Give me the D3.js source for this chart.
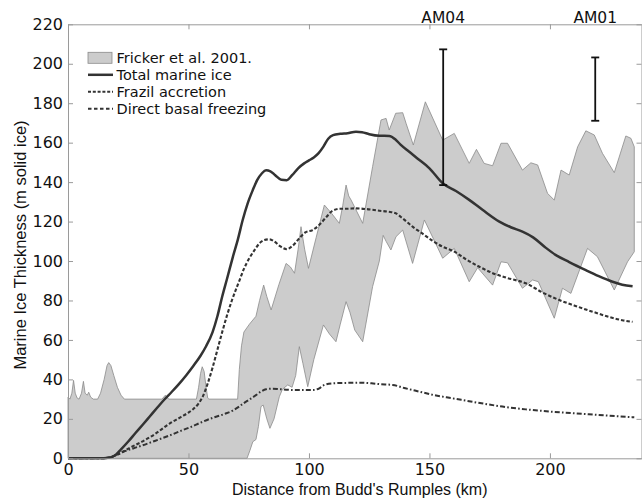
<!DOCTYPE html>
<html>
<head>
<meta charset="utf-8">
<script src="https://cdn.jsdelivr.net/npm/d3@7"></script>
<style>
  html, body { margin: 0; padding: 0; background: #fff; }
  svg { display: block; }
</style>
</head>
<body>
<script>
// data, [km, m solid ice]
const frickerUpper = [
  [0, 31], [0.8, 30], [1.6, 33], [2.3, 39.5], [3.0, 33], [3.8, 30.5], [4.6, 30], [5.6, 33], [6.4, 39],
  [7.1, 33], [8, 32], [8.6, 33.5], [9.4, 31], [10.5, 30], [12.3, 30], [13.5, 33], [15, 40], [16.2, 47],
  [16.9, 48.5], [17.8, 47], [19, 42], [20.5, 36], [22, 32], [23.4, 30], [39, 30], [40.4, 32], [41.8, 30],
  [53.3, 30], [54.2, 36], [55, 43], [55.7, 46.4], [56.5, 44], [57.3, 36], [58, 30.5], [58.5, 30],
  [70.4, 30], [71.1, 45], [72, 57], [73, 64], [75.3, 68], [78, 72], [79.5, 80], [81.2, 87.8], [82.5, 82],
  [84.3, 75.2], [87.5, 88], [90.5, 98.8], [92.3, 97], [94, 93.8], [95.5, 106], [96.7, 117.4], [98.2, 106],
  [99.8, 96.3], [103, 112], [106.4, 128.4], [109.5, 124], [112.6, 119.1], [114, 128], [115.4, 138.5],
  [116.5, 133], [117.5, 130.9], [122.3, 119.1], [126.4, 147.8], [129.9, 171.5], [132, 172.3], [133.3, 166.4],
  [136, 174.9], [138.9, 175.2], [140.3, 169.8], [143.3, 158.8], [148.3, 180.7], [155.5, 161.3], [160.3, 164.7],
  [166.5, 149.5], [169.5, 156.6], [172.7, 149.5], [176.2, 148.3], [179.7, 159.7], [182.4, 159.7], [188.6, 146.1],
  [192.1, 149.8], [194.9, 148.7], [199, 134.3], [201.8, 130.9], [204.6, 146.1], [208, 143.6], [211.5, 157.9],
  [214.9, 166], [218.4, 163.9], [221.8, 154.6], [226.7, 144.8], [231.5, 163.4], [233.6, 162.2], [235, 157.9]
]
const frickerLower = [
  [0, 0], [74.3, 0], [75.5, 4], [76.7, 8.4], [78, 9.5], [79, 16], [80.1, 26.2], [81, 27], [82.5, 20],
  [83.8, 15.2], [85.5, 20], [87.7, 31.2], [89, 35], [91.2, 37.2], [93, 36], [94.5, 42], [96, 56.6], [97.5, 48],
  [99.5, 36.3], [102, 50], [106, 67.6], [108.5, 63], [111.2, 59.1], [113, 68], [115.4, 79.4], [117, 74],
  [119, 65], [122.3, 59.1], [126.4, 87], [129.2, 100], [130.8, 113], [132, 110], [134, 105.6], [136.1, 112.3],
  [138.9, 115.7], [143, 98.8], [147.9, 120.8], [155.5, 101.4], [160.3, 106.4], [166.5, 89.5], [170, 96.6],
  [176.2, 87.8], [179.7, 99.6], [182.4, 99.1], [188.6, 86.2], [192.8, 90.4], [195.2, 89.5], [201.8, 71],
  [205.2, 86.2], [208.7, 83.6], [215.6, 106.4], [219.7, 102.2], [226.7, 85.3], [232.2, 99.6], [235, 104.7]
]
const totalIce = [
  [0, 0], [14, 0], [16, 0.2], [18, 0.6], [20, 2], [22, 4.5], [25, 8.5], [28, 12.8], [31, 17], [34, 21.3],
  [37, 25.6], [40, 29.8], [43, 33.6], [46, 37.6], [49, 42], [52, 46.8], [55, 52], [57.3, 56.8], [60, 64],
  [62, 72], [64, 82], [66, 91], [68.4, 102], [70.5, 111], [72.5, 120.8], [74.5, 129], [76.7, 136],
  [78.5, 141], [80.5, 144.5], [82.2, 146], [84, 145.5], [86, 143.5], [88.5, 141.2], [90.8, 141], [93, 143.5],
  [95.5, 147], [98, 149.5], [100, 151], [102, 152.5], [104, 154.7], [106, 158], [108, 162], [110, 163.8],
  [113, 164.5], [116, 164.8], [119.5, 165.5], [122, 165.3], [125, 164.3], [129.2, 163.5], [133.3, 163.4],
  [136, 161.5], [138, 159], [141.6, 155.4], [145, 152], [150, 147], [155.5, 139.4], [161, 135.5],
  [166.5, 131], [172, 126], [179, 120], [184, 117], [188.6, 114.9], [193, 112], [198, 107], [202.5, 103],
  [208, 99.5], [214.9, 95.4], [220, 92.5], [226, 89.5], [230, 88], [234.3, 87.2]
]
const frazil = [
  [0, 0], [14, 0], [16, 0.2], [18, 0.6], [20, 1.6], [23, 3.5], [26, 5.5], [31, 8.6], [36, 12.2], [42, 17.5],
  [47, 21], [50, 23.2], [52, 25], [54, 27.5], [56, 31.5], [58, 38], [60, 46], [62, 55], [64, 64],
  [66, 72.5], [68, 80], [71.1, 90], [73, 96], [75.3, 101.5], [77.4, 105.5], [79.5, 109], [81.5, 110.6],
  [83.6, 111], [85.5, 110], [88, 107.5], [90.8, 106], [93, 107.5], [96, 111.5], [98.5, 114.5], [101.5, 115.7],
  [104, 118], [107, 122], [109.8, 125.5], [113, 126.5], [116, 126.5], [119.5, 126.7], [124, 126.3],
  [129.2, 125.5], [133, 125], [136, 124.2], [139, 121.5], [143, 117.4], [147, 114], [151, 110.5],
  [155.5, 107.2], [160, 105], [165, 101], [170.7, 97.1], [176, 94], [182, 91.5], [190, 88.7], [197, 84],
  [203.9, 80.2], [210, 77.5], [217.7, 74.3], [225, 71.5], [230, 70], [234.3, 69.2]
]
const basal = [
  [0, 0], [14, 0], [16, 0.2], [18, 0.6], [20, 1.6], [23, 3.3], [27, 5], [31, 6.6], [36, 8.8], [42, 11.5],
  [47, 14], [51.8, 16.3], [54.5, 17.8], [60, 20.5], [65, 22.5], [68.4, 24.2], [71.1, 26.3], [73, 28],
  [75.3, 29.8], [78, 32], [80, 33.8], [82.2, 35], [85, 35.3], [88, 35], [90.5, 34.8], [95, 34.6], [101.5, 34.6],
  [104.3, 35.5], [106, 37], [109.8, 38], [115, 38.2], [121, 38.3], [126, 38], [129.2, 37.6], [134.7, 37.2],
  [140, 35.5], [145.8, 33.8], [152, 32], [159.6, 30.4], [170, 28.2], [180.3, 26.2], [190, 24.8],
  [201, 23.6], [210, 22.8], [220, 22], [228, 21.3], [235, 20.8]
]
// error bars at the two stations: [km, low, high]
const stations = ['AM04', 'AM01']
const stationBars = [[155.7, 138.5, 207.3], [218.8, 171.1, 203.2]]

const xTicks = [0, 50, 100, 150, 200]
const yTicks = [0, 20, 40, 60, 80, 100, 120, 140, 160, 180, 200, 220]
const legendLabels = ['Fricker et al. 2001.', 'Total marine ice', 'Frazil accretion', 'Direct basal freezing']

// layout
const width = 642
const height = 500
const frame = { left: 68, right: 641.5, top: 24.3, bottom: 458.3 }
const lineColor = '#333'
const tickFont = 'DejaVu Sans, sans-serif'
const labelFont = 'Liberation Sans, Arial, sans-serif'

const svg = d3.select('body')
  .append('svg')
  .attr('width', width)
  .attr('height', height)

// scales
const xScale = d3.scaleLinear()
  .domain([0, 238])
  .range([frame.left, frame.right])
const yScale = d3.scaleLinear()
  .domain([0, 220])
  .range([frame.bottom, frame.top])

const line = d3.line()
  .x(d => xScale(d[0]))
  .y(d => yScale(d[1]))

// shaded Fricker band (upper edge then lower edge back)
const band = frickerUpper.concat(frickerLower.slice().reverse())
svg.append('path')
  .attr('d', line(band) + 'Z')
  .attr('fill', '#cccccc')
  .attr('stroke', '#8a8a8a')
  .attr('stroke-width', 0.8)

// model lines
const smooth = d3.line()
  .x(d => xScale(d[0]))
  .y(d => yScale(d[1]))
  .curve(d3.curveMonotoneX)

const series = [
  { data: basal, dash: '5,2.2,1.6,2.2', w: 2 },
  { data: frazil, dash: '3.5,2', w: 2.1 },
  { data: totalIce, dash: null, w: 2.5 }
]
series.forEach(s => {
  svg.append('path')
    .attr('d', smooth(s.data))
    .attr('fill', 'none')
    .attr('stroke', lineColor)
    .attr('stroke-width', s.w)
    .attr('stroke-dasharray', s.dash)
})

// station error bars
const bars = svg.append('g')
stationBars.forEach((b, i) => {
  const x = xScale(b[0])
  bars.append('line')
    .attr('x1', x).attr('x2', x)
    .attr('y1', yScale(b[1])).attr('y2', yScale(b[2]))
    .attr('stroke', '#111').attr('stroke-width', 1.8)
  ;[b[1], b[2]].forEach(v => {
    bars.append('line')
      .attr('x1', x - 4).attr('x2', x + 4)
      .attr('y1', yScale(v)).attr('y2', yScale(v))
      .attr('stroke', '#111').attr('stroke-width', 1.8)
  })
  svg.append('text')
    .attr('x', x)
    .attr('y', frame.top - 1.5)
    .attr('text-anchor', 'middle')
    .attr('font-family', tickFont)
    .attr('font-size', 15.5)
    .attr('fill', '#111')
    .text(stations[i])
})

// axes: bottom/left with labels, top/right ticks only
const tickLen = 5
const axisBottom = d3.axisBottom(xScale).tickValues(xTicks).tickSizeInner(-tickLen).tickSizeOuter(0).tickPadding(5.5)
const axisTop = d3.axisTop(xScale).tickValues(xTicks).tickSizeInner(-tickLen).tickSizeOuter(0).tickFormat('')
const axisLeft = d3.axisLeft(yScale).tickValues(yTicks).tickSizeInner(-tickLen).tickSizeOuter(0).tickPadding(5)
const axisRight = d3.axisRight(yScale).tickValues(yTicks).tickSizeInner(-tickLen).tickSizeOuter(0).tickFormat('')

const gB = svg.append('g').attr('transform', `translate(0,${frame.bottom})`).call(axisBottom)
const gT = svg.append('g').attr('transform', `translate(0,${frame.top})`).call(axisTop)
const gL = svg.append('g').attr('transform', `translate(${frame.left},0)`).call(axisLeft)
const gR = svg.append('g').attr('transform', `translate(${frame.right},0)`).call(axisRight)

;[gB, gT, gL, gR].forEach(g => {
  g.select('.domain').attr('stroke', '#9a9a9a').attr('stroke-width', 1)
  g.selectAll('.tick line').attr('stroke', '#9a9a9a').attr('stroke-width', 1)
  g.selectAll('.tick text')
    .attr('font-family', tickFont)
    .attr('font-size', 16)
    .attr('fill', '#111')
})

// axis titles
svg.append('text')
  .attr('x', (frame.left + frame.right) / 2 + 5)
  .attr('y', 495)
  .attr('text-anchor', 'middle')
  .attr('font-family', labelFont)
  .attr('font-size', 16)
  .attr('fill', '#111')
  .text("Distance from Budd's Rumples (km)")

svg.append('text')
  .attr('transform', 'translate(26,245) rotate(-90)')
  .attr('text-anchor', 'middle')
  .attr('font-family', labelFont)
  .attr('font-size', 16.5)
  .attr('fill', '#111')
  .text('Marine Ice Thickness (m solid ice)')

// legend
const legend = svg.append('g').attr('transform', 'translate(88,57.8)')
const rowH = 17
legend.append('rect')
  .attr('x', 0).attr('y', -5.5)
  .attr('width', 24).attr('height', 11)
  .attr('fill', '#cccccc')
  .attr('stroke', '#8a8a8a')
  .attr('stroke-width', 0.8)

const legendDash = [null, '3,1.8', '3.5,2.5']
legendDash.forEach((dash, i) => {
  legend.append('line')
    .attr('x1', 0).attr('x2', 25)
    .attr('y1', (i + 1) * rowH).attr('y2', (i + 1) * rowH)
    .attr('stroke', lineColor)
    .attr('stroke-width', i === 0 ? 2.5 : 2)
    .attr('stroke-dasharray', dash)
})

legend.selectAll('text.lbl')
  .data(legendLabels)
  .enter()
  .append('text')
  .attr('class', 'lbl')
  .attr('x', 28.5)
  .attr('y', (d, i) => i * rowH + 5)
  .attr('font-family', tickFont)
  .attr('font-size', 14.5)
  .attr('fill', '#111')
  .text(d => d)
</script>
</body>
</html>
